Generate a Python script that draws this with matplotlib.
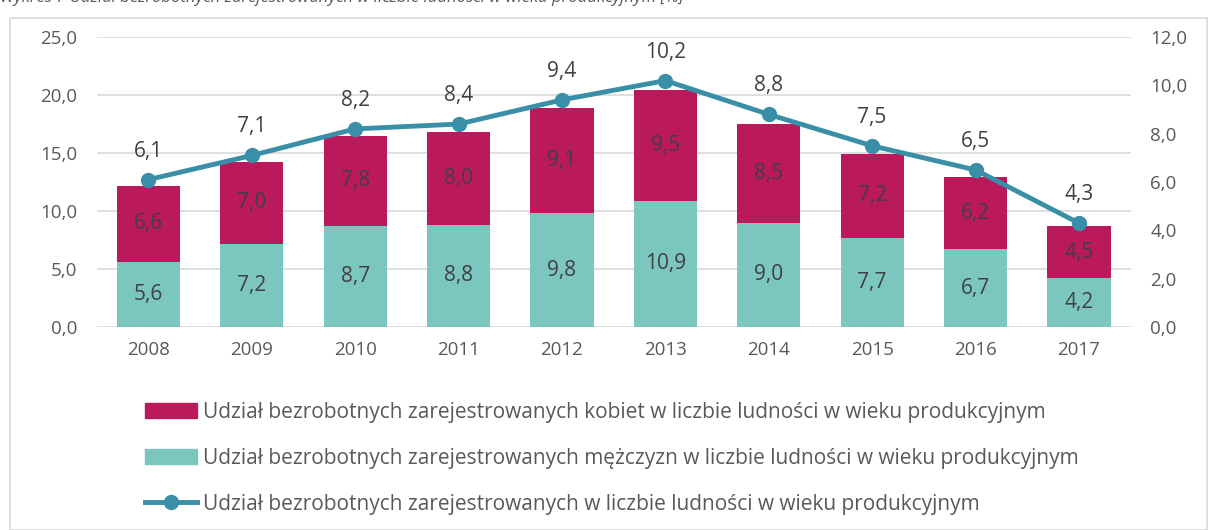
import matplotlib.pyplot as plt
from matplotlib.patches import Rectangle
from matplotlib.lines import Line2D
from matplotlib.patches import Patch

years = ['2008', '2009', '2010', '2011', '2012', '2013', '2014', '2015', '2016', '2017']
men = [5.6, 7.2, 8.7, 8.8, 9.8, 10.9, 9.0, 7.7, 6.7, 4.2]
women = [6.6, 7.0, 7.8, 8.0, 9.1, 9.5, 8.5, 7.2, 6.2, 4.5]
total = [6.1, 7.1, 8.2, 8.4, 9.4, 10.2, 8.8, 7.5, 6.5, 4.3]

lab_women = 'Udział bezrobotnych zarejestrowanych kobiet w liczbie ludności w wieku produkcyjnym'
lab_men = 'Udział bezrobotnych zarejestrowanych mężczyzn w liczbie ludności w wieku produkcyjnym'
lab_total = 'Udział bezrobotnych zarejestrowanych w liczbie ludności w wieku produkcyjnym'
title = 'Wykres 7 Udział bezrobotnych zarejestrowanych w liczbie ludności w wieku produkcyjnym [%]'

c_women = '#BA1A5C'
c_men = '#7CC6C0'
c_line = '#3A8FA8'
c_txt = '#404040'
c_tick = '#595959'

plt.rcParams['font.family'] = ['Open Sans', 'DejaVu Sans']


def fmt(v):
    return f'{v:.1f}'.replace('.', ',')


fig = plt.figure(figsize=(12.08, 5.30), dpi=100)
fig.patches.append(Rectangle((10 / 1208, 0), 1 - 10 / 1208 - 0.001, 1 - 18 / 530,
                             transform=fig.transFigure, fill=False,
                             edgecolor='#d9d9d9', linewidth=1.2))
# title is cut off at the top edge in the reference too
fig.text(0.0, 1.0 + 0.004, title, fontsize=12, style='italic', color=c_tick,
         ha='left', va='center')

ax = fig.add_axes([0.080, 0.383, 0.856, 0.547])
x = list(range(len(years)))
ax.bar(x, men, width=0.61, color=c_men, zorder=2)
ax.bar(x, women, width=0.61, bottom=men, color=c_women, zorder=2)
for i in x:
    ax.text(i, men[i] / 2, fmt(men[i]), ha='center', va='center', fontsize=15, color=c_txt, zorder=3)
    ax.text(i, men[i] + women[i] / 2, fmt(women[i]), ha='center', va='center', fontsize=15, color=c_txt, zorder=3)

ax.set_xlim(-0.5, 9.5)
ax.set_ylim(0, 25)
ax.set_yticks([0, 5, 10, 15, 20, 25])
ax.set_yticklabels([fmt(v) for v in [0, 5, 10, 15, 20, 25]])
ax.set_xticks(x)
ax.set_xticklabels(years)
ax.grid(axis='y', color='#d9d9d9', linewidth=1.2, zorder=0)
for s in ax.spines.values():
    s.set_visible(False)
ax.tick_params(length=0, labelsize=13.5, colors=c_tick, pad=10)
ax.tick_params(axis='y', pad=14)

ax2 = ax.twinx()
ax2.plot(x, total, color=c_line, linewidth=3.5, marker='o', markersize=10, zorder=4)
for i in x:
    ax2.annotate(fmt(total[i]), (i, total[i]), xytext=(0, 13), textcoords='offset points',
                 ha='center', va='bottom', fontsize=15, color=c_txt)
ax2.set_ylim(0, 12)
ax2.set_yticks([0, 2, 4, 6, 8, 10, 12])
ax2.set_yticklabels([fmt(v) for v in [0, 2, 4, 6, 8, 10, 12]])
for s in ax2.spines.values():
    s.set_visible(False)
ax2.tick_params(length=0, labelsize=13.5, colors=c_tick, pad=14)

handles = [Patch(color=c_women), Patch(color=c_men),
           Line2D([0], [0], color=c_line, linewidth=3.5, marker='o', markersize=10)]
leg = fig.legend(handles, [lab_women, lab_men, lab_total], loc='upper left',
                 bbox_to_anchor=(0.113, 0.258), frameon=False, fontsize=15,
                 handlelength=2.5, handleheight=0.75, handletextpad=0.3,
                 labelspacing=1.2, borderaxespad=0, numpoints=1)
for t in leg.get_texts():
    t.set_color(c_tick)

fig.savefig('out.png', dpi=100)
